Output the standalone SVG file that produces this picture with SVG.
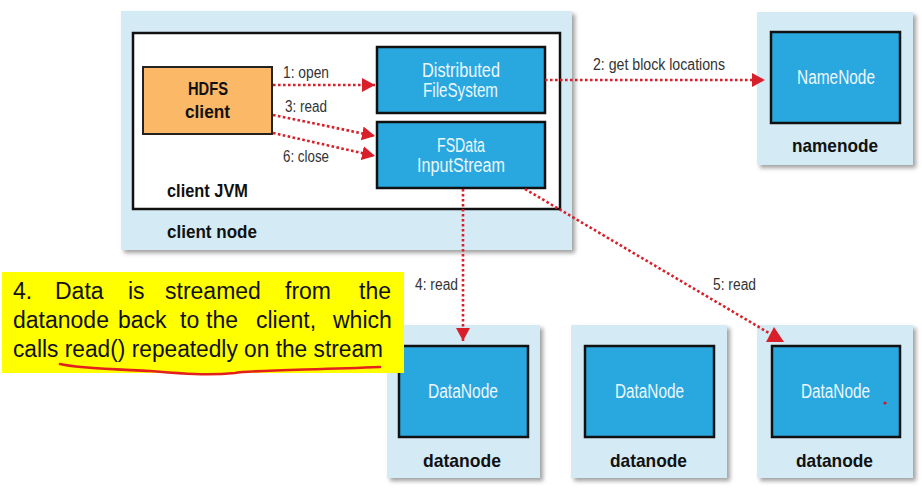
<svg xmlns="http://www.w3.org/2000/svg" width="922" height="488" viewBox="0 0 922 488">
<style>
.host{fill:#D4EBF6;filter:url(#sh)}
.blue{fill:#29A8E0;stroke:#111;stroke-width:2.5}
.lbl{font-family:"Liberation Sans",Arial,sans-serif;font-size:16px;fill:#333}
.wt{font-family:"Liberation Sans",Arial,sans-serif;font-size:20px;fill:#EEF7FC}
.bd{font-family:"Liberation Sans",Arial,sans-serif;font-size:19px;font-weight:bold;fill:#111}
.cal{font-family:"Liberation Sans",Arial,sans-serif;font-size:23px;fill:#111}
.dot{fill:none;stroke:#D9202A;stroke-width:2.6;stroke-dasharray:2.6 2.4}
</style>
<defs>
<filter id="sh" x="-10%" y="-10%" width="125%" height="125%">
<feDropShadow dx="3" dy="3" stdDeviation="2" flood-color="#777" flood-opacity="0.7"/>
</filter>
<marker id="ah" markerUnits="userSpaceOnUse" markerWidth="14" markerHeight="15" refX="13" refY="7" orient="auto">
<path d="M0,0 L13,7 L0,14 z" fill="#D9202A"/>
</marker>
</defs>

<g id="client-node">
<rect class="host" x="121" y="11" width="451" height="239"/>
<text class="bd" x="167" y="238" textLength="90" lengthAdjust="spacingAndGlyphs">client node</text>
</g>
<g id="client-jvm">
<rect x="133" y="33" width="427" height="176" fill="#fff" stroke="#111" stroke-width="2.5"/>
<text class="bd" x="167" y="197" textLength="81" lengthAdjust="spacingAndGlyphs">client JVM</text>
</g>
<g id="hdfs-client">
<rect x="143" y="67" width="129" height="67" fill="#FBB867" stroke="#222" stroke-width="2"/>
<text class="bd" x="188" y="95" textLength="40" lengthAdjust="spacingAndGlyphs">HDFS</text>
<text class="bd" x="185" y="118" textLength="45" lengthAdjust="spacingAndGlyphs">client</text>
</g>
<g id="distributed-filesystem">
<rect class="blue" x="377" y="47" width="168" height="66"/>
<text class="wt" x="422" y="77" textLength="78" lengthAdjust="spacingAndGlyphs">Distributed</text>
<text class="wt" x="423" y="97" textLength="75" lengthAdjust="spacingAndGlyphs">FileSystem</text>
</g>
<g id="fsdata-inputstream">
<rect class="blue" x="377" y="122" width="168" height="66"/>
<text class="wt" x="437" y="152" textLength="48" lengthAdjust="spacingAndGlyphs">FSData</text>
<text class="wt" x="417" y="172" textLength="88" lengthAdjust="spacingAndGlyphs">InputStream</text>
</g>
<g id="namenode">
<rect class="host" x="757" y="12" width="156" height="153"/>
<rect class="blue" x="771" y="32" width="129" height="91"/>
<text class="wt" x="797" y="84" textLength="78" lengthAdjust="spacingAndGlyphs">NameNode</text>
<text class="bd" x="792" y="152" textLength="86" lengthAdjust="spacingAndGlyphs">namenode</text>
</g>
<g id="datanode1">
<rect class="host" x="387" y="325" width="153" height="153"/>
<rect class="blue" x="399" y="346" width="129" height="91"/>
<text class="wt" x="428" y="398" textLength="70" lengthAdjust="spacingAndGlyphs">DataNode</text>
<text class="bd" x="423" y="467" textLength="78" lengthAdjust="spacingAndGlyphs">datanode</text>
</g>
<g id="datanode2">
<rect class="host" x="571" y="325" width="156" height="153"/>
<rect class="blue" x="585" y="346" width="129" height="91"/>
<text class="wt" x="615" y="398" textLength="69" lengthAdjust="spacingAndGlyphs">DataNode</text>
<text class="bd" x="610" y="467" textLength="77" lengthAdjust="spacingAndGlyphs">datanode</text>
</g>
<g id="datanode3">
<rect class="host" x="757" y="325" width="156" height="153"/>
<rect class="blue" x="772" y="346" width="128" height="91"/>
<text class="wt" x="801" y="398" textLength="69" lengthAdjust="spacingAndGlyphs">DataNode</text>
<text class="bd" x="796" y="467" textLength="77" lengthAdjust="spacingAndGlyphs">datanode</text>
<circle cx="885" cy="403" r="1.6" fill="#E0101A"/>
</g>

<g id="connectors">
<line class="dot" x1="273" y1="85" x2="375" y2="85" marker-end="url(#ah)"/>
<line class="dot" x1="273" y1="115" x2="375" y2="136" marker-end="url(#ah)"/>
<line class="dot" x1="273" y1="133" x2="375" y2="156" marker-end="url(#ah)"/>
<line class="dot" x1="545" y1="80" x2="765" y2="80" marker-end="url(#ah)"/>
<line class="dot" x1="463" y1="189" x2="463" y2="341" marker-end="url(#ah)"/>
<line class="dot" x1="525" y1="189" x2="769" y2="333"/>
<polygon points="774,327 766,342 784,342" fill="#D9202A"/>
<text class="lbl" x="283" y="78" textLength="46" lengthAdjust="spacingAndGlyphs">1: open</text>
<text class="lbl" x="285" y="112" textLength="42" lengthAdjust="spacingAndGlyphs">3: read</text>
<text class="lbl" x="283" y="162" textLength="46" lengthAdjust="spacingAndGlyphs">6: close</text>
<text class="lbl" x="593" y="70" textLength="132" lengthAdjust="spacingAndGlyphs">2: get block locations</text>
<text class="lbl" x="415" y="290" textLength="43" lengthAdjust="spacingAndGlyphs">4: read</text>
<text class="lbl" x="713" y="290" textLength="43" lengthAdjust="spacingAndGlyphs">5: read</text>
</g>

<g id="note">
<rect x="2" y="272" width="402" height="101" fill="#FFFF00"/>
<text class="cal" y="299"><tspan x="13">4.</tspan><tspan x="55">Data</tspan><tspan x="128">is</tspan><tspan x="165">streamed</tspan><tspan x="285">from</tspan><tspan x="359">the</tspan></text>
<text class="cal" y="328"><tspan x="13">datanode</tspan><tspan x="118">back</tspan><tspan x="180">to</tspan><tspan x="206">the</tspan><tspan x="256">client,</tspan><tspan x="333">which</tspan></text>
<text class="cal" x="13" y="357" textLength="370" lengthAdjust="spacingAndGlyphs">calls read() repeatedly on the stream</text>
<path d="M60,364 C75,368 110,369 150,371 C175,373 205,376 235,373 C250,370 310,370 380,367" fill="none" stroke="#E3211C" stroke-width="2.6" stroke-linecap="round"/>
</g>
</svg>
